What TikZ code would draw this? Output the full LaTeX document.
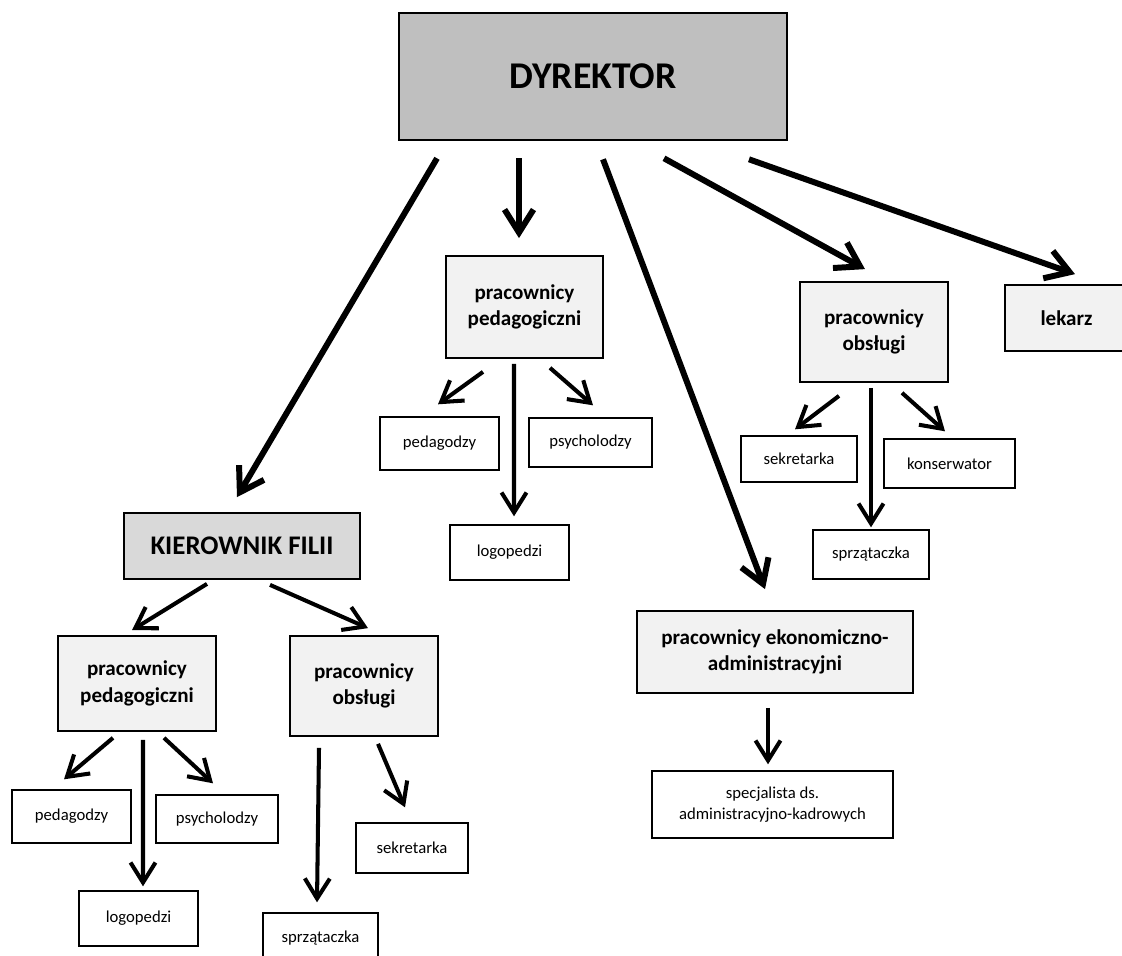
\documentclass[tikz,border=0pt]{standalone}
\usepackage{fontspec}
\setmainfont{Carlito}
\usetikzlibrary{arrows.meta, calc}
\tikzstyle{topbox} =[rectangle, draw=black, line width=1.5pt, fill=black!25, text centered, font=\bfseries\fontsize{21.5}{25}\selectfont]
\tikzstyle{filiabox} =[rectangle, draw=black, line width=1pt, fill=black!15, text centered, font=\bfseries\fontsize{15.3}{18}\selectfont]
\tikzstyle{group} =[rectangle, draw=black, line width=1pt, fill=black!5, align=center, inner sep=2pt, font=\bfseries\fontsize{12}{15}\selectfont]
\tikzstyle{post} =[rectangle, draw=black, line width=0.8pt, fill=white, align=center, inner sep=2pt, font=\fontsize{9.5}{12}\selectfont]
\tikzstyle{bigarrow} =[line width=3.4pt, -{Straight Barb[length=4.6mm, width=5.8mm]}]
\tikzstyle{arrow} =[line width=2.3pt, -{Straight Barb[length=4mm, width=5mm]}]

\begin{document}
\begin{tikzpicture}[x=0.02cm, y=-0.02cm]
\useasboundingbox (0,0) rectangle (1122,956);
% top
\node (dyr) [topbox, minimum width=7.76cm, minimum height=2.54cm] at (593,76.5) {DYREKTOR};
% main school
\node (pedM) [group, minimum width=3.14cm, minimum height=2.04cm] at (524.5,307) {pracownicy\\pedagogiczni};
\node (pedagM) [post, minimum width=2.38cm, minimum height=1.06cm] at (439.5,443.5) {pedagodzy};
\node (psychM) [post, minimum width=2.46cm, minimum height=0.98cm] at (590.5,442.5) {psycholodzy};
\node (logoM) [post, minimum width=2.38cm, minimum height=1.10cm] at (509.5,552.5) {logopedzi};
\node (obslR) [group, minimum width=2.96cm, minimum height=2.00cm] at (874,332) {pracownicy\\obsługi};
\node (lekarz) [group, minimum width=2.46cm, minimum height=1.32cm] at (1066.5,318) {lekarz};
\node (sekrR) [post, minimum width=2.32cm, minimum height=0.92cm] at (799,459) {sekretarka};
\node (konsR) [post, minimum width=2.62cm, minimum height=0.98cm] at (949.5,463.5) {konserwator};
\node (sprzR) [post, minimum width=2.32cm, minimum height=0.98cm] at (871,554.5) {sprzątaczka};
\node (ekon) [group, minimum width=5.52cm, minimum height=1.64cm] at (775,652) {pracownicy ekonomiczno-\\administracyjni};
\node (spec) [post, minimum width=4.82cm, minimum height=1.34cm] at (772.5,804.5) {specjalista ds.\\administracyjno-kadrowych};
% branch
\node (kier) [filiabox, minimum width=4.72cm, minimum height=1.32cm] at (242,546) {KIEROWNIK FILII};
\node (pedL) [group, minimum width=3.16cm, minimum height=1.90cm] at (137,683.5) {pracownicy\\pedagogiczni};
\node (obslL) [group, minimum width=2.96cm, minimum height=2.00cm] at (364,686) {pracownicy\\obsługi};
\node (pedagL) [post, minimum width=2.38cm, minimum height=1.06cm] at (71.5,816.5) {pedagodzy};
\node (psychL) [post, minimum width=2.44cm, minimum height=0.96cm] at (217,819) {psycholodzy};
\node (logoL) [post, minimum width=2.38cm, minimum height=1.10cm] at (138.5,918.5) {logopedzi};
\node (sekrL) [post, minimum width=2.24cm, minimum height=1.00cm] at (412,848) {sekretarka};
\node (sprzL) [post, minimum width=2.30cm, minimum height=1.00cm] at (320.5,938) {sprzątaczka};

\draw [bigarrow] ($(dyr.south)+(-156,17)$) -- ($(kier.north)+(-5,-15)$);
\draw [bigarrow] ($(dyr.south)+(-74,17)$) -- ($(pedM.north)+(-5.5,-17)$);
\draw [bigarrow] ($(dyr.south)+(10,18)$) -- ($(ekon.north)+(-10,-21)$);
\draw [bigarrow] ($(dyr.south)+(71,17)$) -- ($(obslR.north)+(-9,-12)$);
\draw [bigarrow] ($(dyr.south)+(156,18)$) -- ($(lekarz.north)+(8.5,-10)$);

\draw [arrow] ($(pedM.south)+(-41.5,13)$) -- ($(pedagM.north)+(-1.5,-12)$);
\draw [arrow] ($(pedM.south)+(-10.5,5)$) -- ($(logoM.north)+(4.5,-8)$);
\draw [arrow] ($(pedM.south)+(25.5,9)$) -- ($(psychM.north)+(2.5,-12)$);

\draw [arrow] ($(obslR.south)+(-35,13)$) -- ($(sekrR.north)+(-4,-6)$);
\draw [arrow] ($(obslR.south)+(-3,5)$) -- ($(sprzR.north)+(0,-2)$);
\draw [arrow] ($(obslR.south)+(28,10)$) -- ($(konsR.north)+(-4.5,-7)$);

\draw [arrow] ($(ekon.south)+(-7,14)$) -- ($(spec.north)+(-4.5,-6)$);

\draw [arrow] ($(kier.south)+(-35,4)$) -- ($(pedL.north)+(-5,-5)$);
\draw [arrow] ($(kier.south)+(28,5)$) -- ($(obslL.north)+(4,-7)$);

\draw [arrow] ($(pedL.south)+(-24,6)$) -- ($(pedagL.north)+(-7.5,-10)$);
\draw [arrow] ($(pedL.south)+(6,8)$) -- ($(logoL.north)+(4.5,-4)$);
\draw [arrow] ($(pedL.south)+(27,6)$) -- ($(psychL.north)+(-4,-11)$);

\draw [arrow] ($(obslL.south)+(-45,11)$) -- ($(sprzL.north)+(-3.5,-10)$);
\draw [arrow] ($(obslL.south)+(14,7)$) -- ($(sekrL.north)+(-7,-15)$);
\end{tikzpicture}
\end{document}
